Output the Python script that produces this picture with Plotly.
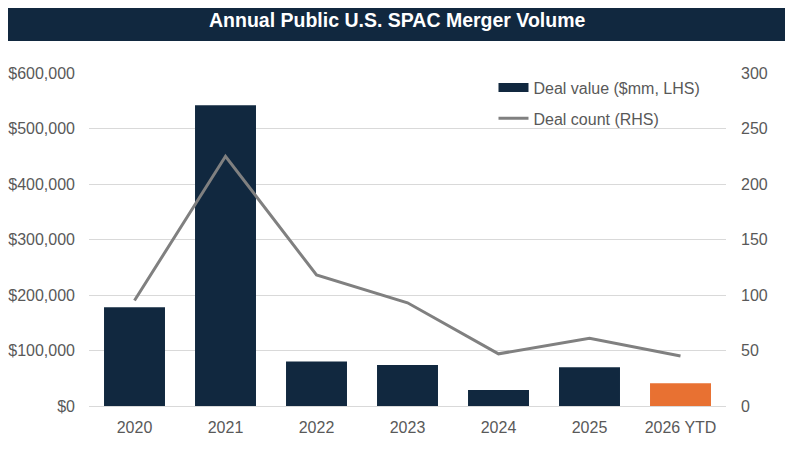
import plotly.graph_objects as go

years = ['2020', '2021', '2022', '2023', '2024', '2025', '2026 YTD']
deal_value = [178000, 542000, 80000, 74000, 29000, 70000, 41000]
deal_count = [95, 225, 118, 93, 47, 61, 45]

NAVY = '#11283F'
ORANGE = '#E87132'
FONT = 'Liberation Sans, Arial, sans-serif'
GREY_TXT = '#595959'

bar_colors = [NAVY] * (len(years) - 1) + [ORANGE]

fig = go.Figure()

fig.add_trace(go.Bar(
    x=years, y=deal_value,
    name='Deal value ($mm, LHS)',
    marker=dict(color=bar_colors, line=dict(width=0)),
    showlegend=False,
))
# legend-only entry so the swatch is a wide block like the original
fig.add_trace(go.Scatter(
    x=[None], y=[None],
    name='Deal value ($mm, LHS)',
    mode='lines',
    line=dict(color=NAVY, width=9),
    legendgroup='a',
))
fig.add_trace(go.Scatter(
    x=years, y=deal_count,
    name='Deal count (RHS)',
    mode='lines',
    line=dict(color='#808080', width=3),
    yaxis='y2',
    legendgroup='b',
))

# page body adds 8px, so the figure is laid out 8px up/left
W, H = 785, 454
L, R, T, B = 81, 67, 65, 56
pw, ph = W - L - R, H - T - B

fig.update_layout(
    width=W, height=H,
    margin=dict(l=L, r=R, t=T, b=B, autoexpand=False),
    plot_bgcolor='white',
    paper_bgcolor='white',
    font=dict(family=FONT, size=16, color=GREY_TXT),
    bargap=0.33,
    showlegend=True,
    legend=dict(
        x=0.635, y=1.007, xanchor='left', yanchor='top',
        bgcolor='rgba(0,0,0,0)',
        font=dict(size=16, color=GREY_TXT),
        tracegroupgap=7,
        traceorder='grouped',
        itemwidth=30,
    ),
    xaxis=dict(
        showgrid=False, showline=False, zeroline=False, automargin=False,
        ticks='', ticklabelstandoff=10,
        tickfont=dict(size=16, color=GREY_TXT),
    ),
    yaxis=dict(
        range=[0, 600000], dtick=100000,
        tickprefix='$', tickformat=',d',
        showgrid=True, gridcolor='#D9D9D9', gridwidth=1,
        zeroline=True, zerolinecolor='#D9D9D9', zerolinewidth=1,
        showline=False, ticks='', automargin=False,
        ticklabelstandoff=13,
        tickfont=dict(size=16, color=GREY_TXT),
    ),
    yaxis2=dict(
        range=[0, 300], dtick=50,
        overlaying='y', side='right',
        showgrid=False, zeroline=False, showline=False, ticks='',
        automargin=False, ticklabelstandoff=14,
        tickfont=dict(size=16, color=GREY_TXT),
    ),
    shapes=[dict(
        type='rect', xref='paper', yref='paper',
        x0=-L / pw, x1=1 + R / pw,
        y0=1 + (T - 33) / ph, y1=1 + T / ph,
        fillcolor=NAVY, line=dict(width=0), layer='below',
    )],
    annotations=[dict(
        text='<b>Annual Public U.S. SPAC Merger Volume</b>',
        xref='paper', yref='paper',
        x=(388.5 - L) / pw, y=1 + (T - 12) / ph,
        xanchor='center', yanchor='middle', showarrow=False,
        font=dict(family=FONT, size=19.5, color='white'),
    )],
)

fig.write_html('out.html')
